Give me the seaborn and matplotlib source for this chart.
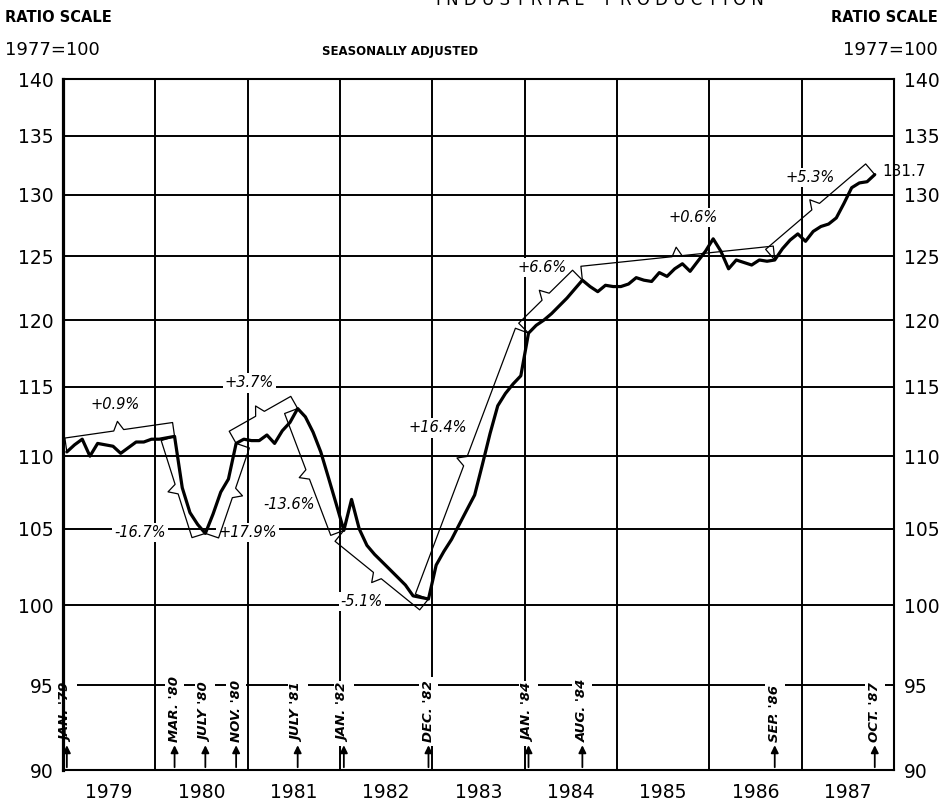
import numpy as np
import pandas as pd
import matplotlib
matplotlib.use("Agg")
import matplotlib.pyplot as plt
from matplotlib.ticker import FixedLocator, NullLocator, FuncFormatter
import seaborn as sns

# monthly industrial production index, 1977=100, seasonally adjusted
ip_1979 = [110.3, 110.8, 111.2, 110.0, 110.9, 110.8, 110.7, 110.2, 110.6, 111.0, 111.0, 111.2]
ip_1980 = [111.2, 111.3, 111.4, 107.8, 106.1, 105.3, 104.7, 106.0, 107.5, 108.4, 110.9, 111.2]
ip_1981 = [111.1, 111.1, 111.5, 110.9, 111.8, 112.4, 113.4, 112.8, 111.7, 110.3, 108.5, 106.7]
ip_1982 = [104.9, 107.0, 105.0, 103.9, 103.3, 102.8, 102.3, 101.8, 101.3, 100.6, 100.5, 100.4]
ip_1983 = [102.6, 103.5, 104.3, 105.3, 106.3, 107.3, 109.4, 111.6, 113.6, 114.5, 115.2, 115.8]
ip_1984 = [119.0, 119.6, 120.0, 120.5, 121.1, 121.7, 122.4, 123.1, 122.6, 122.2, 122.7, 122.6]
ip_1985 = [122.6, 122.8, 123.3, 123.1, 123.0, 123.7, 123.4, 124.0, 124.4, 123.8, 124.6, 125.4]
ip_1986 = [126.4, 125.4, 124.0, 124.7, 124.5, 124.3, 124.7, 124.6, 124.7, 125.6, 126.3, 126.8]
ip_1987 = [126.2, 127.0, 127.4, 127.6, 128.1, 129.3, 130.6, 131.0, 131.1, 131.7]

years = [1979, 1980, 1981, 1982, 1983, 1984, 1985, 1986, 1987]
yearly = [ip_1979, ip_1980, ip_1981, ip_1982, ip_1983, ip_1984, ip_1985, ip_1986, ip_1987]

# turning points (year, month) and their labels
turn_dates = [(1979, 1), (1980, 3), (1980, 7), (1980, 11), (1981, 7), (1982, 1),
              (1982, 12), (1984, 1), (1984, 8), (1986, 9), (1987, 10)]
turn_labels = ["JAN. '79", "MAR. '80", "JULY '80", "NOV. '80", "JULY '81", "JAN. '82",
               "DEC. '82", "JAN. '84", "AUG. '84", "SEP. '86", "OCT. '87"]
# annualized change between consecutive turning points
change_labels = ["+0.9%", "-16.7%", "+17.9%", "+3.7%", "-13.6%", "-5.1%",
                 "+16.4%", "+6.6%", "+0.6%", "+5.3%"]
brace_side = ["up", "down", "down", "up", "down", "down", "up", "up", "up", "up"]
# where each change label sits relative to its brace tip (pixels)
label_shift = [(-2, 17), (-28, -41), (5, -37), (-6, 23), (-10, -27), (-10, -19),
               (-19, 30), (3, 23), (17, 30), (0, 22)]

yticks = [90, 95, 100, 105, 110, 115, 120, 125, 130, 135, 140]

rows = []
for yr, vals in zip(years, yearly):
    for m, v in enumerate(vals):
        rows.append({"year": yr, "month": m + 1, "t": yr + (m + 0.5) / 12, "ip": v})
df = pd.DataFrame(rows)

sns.set_theme(style="white")
plt.rcParams["font.family"] = ["DejaVu Sans"]
plt.rcParams["text.color"] = "black"
plt.rcParams["xtick.color"] = "black"
plt.rcParams["ytick.color"] = "black"

W, H = 943, 801
fig = plt.figure(figsize=(W / 100, H / 100), dpi=100)
ax = fig.add_axes([63 / W, 31 / H, (894 - 63) / W, (770 - 79) / H])

ax.set_yscale("log")
ax.set_xlim(1979, 1988)
ax.set_ylim(90, 140)

ax.yaxis.set_major_locator(FixedLocator(yticks))
ax.yaxis.set_minor_locator(NullLocator())
ax.yaxis.set_major_formatter(FuncFormatter(lambda v, p: f"{v:.0f}"))
ax.tick_params(axis="y", which="both", length=0, labelsize=13.5, pad=7,
               left=False, right=False, labelleft=True, labelright=True)

ax.set_xticks(years[1:])
ax.set_xticklabels([])
ax.set_xticks([y + 0.5 for y in years], minor=True)
ax.set_xticklabels([str(y) for y in years], minor=True)
ax.tick_params(axis="x", which="both", length=0, labelsize=13.5, pad=9)

ax.set_axisbelow(True)
ax.grid(True, which="major", color="black", linewidth=1.4)
ax.grid(False, which="minor")
for name, sp in ax.spines.items():
    sp.set_visible(True)
    sp.set_color("black")
    sp.set_linewidth(2.3 if name == "left" else 1.5)

sns.lineplot(data=df, x="t", y="ip", color="black", linewidth=2.3, ax=ax, zorder=4)
ax.set_xlabel("")
ax.set_ylabel("")


def point_of(ym):
    r = df[(df["year"] == ym[0]) & (df["month"] == ym[1])].iloc[0]
    return r["t"], r["ip"]


turn_pts = [point_of(d) for d in turn_dates]


def draw_brace(p0, p1, side, gap=14, tip=9, half=5):
    to_disp = ax.transData
    a = to_disp.transform(p0)
    b = to_disp.transform(p1)
    d = b - a
    u = d / np.hypot(*d)
    n = np.array([-u[1], u[0]])
    if (side == "up") != (n[1] > 0):
        n = -n
    m = (a + b) / 2
    pts = np.array([a, a + gap * n, m + gap * n - half * u, m + (gap + tip) * n,
                    m + gap * n + half * u, b + gap * n, b])
    dat = to_disp.inverted().transform(pts)
    ax.plot(dat[:, 0], dat[:, 1], color="black", linewidth=0.9, zorder=3)
    return to_disp.inverted().transform(m + (gap + tip) * n)


for i, lab in enumerate(change_labels):
    tip_pt = draw_brace(turn_pts[i], turn_pts[i + 1], brace_side[i])
    ax.annotate(lab, xy=tip_pt, xytext=label_shift[i], textcoords="offset pixels",
                ha="center", va="center", fontsize=10.5, style="italic",
                bbox=dict(fc="white", ec="none", pad=1.5), zorder=2.5)

last_t, last_v = turn_pts[-1]
ax.annotate(f"{last_v:.1f}", xy=(last_t, last_v), xytext=(8, 3), textcoords="offset pixels",
            ha="left", va="center", fontsize=11, annotation_clip=False)

for (t, v), lab in zip(turn_pts, turn_labels):
    ax.annotate("", xy=(t, 91.6), xytext=(t, 90),
                arrowprops=dict(arrowstyle="-|>", color="black", lw=1.3, mutation_scale=11),
                zorder=3)
    ax.text(t, 91.6, lab, rotation=90, ha="center", va="bottom", fontsize=9.5,
            fontweight="bold", style="italic",
            bbox=dict(fc="white", ec="none", pad=2.5), zorder=2)

# title is cropped at the top edge in the source scan
fig.text(600 / W, 1.0, "I N D U S T R I A L    P R O D U C T I O N", ha="center",
         va="center", fontsize=12)
fig.text(5 / W, 1 - 18 / H, "RATIO SCALE", ha="left", va="center", fontsize=10.5,
         fontweight="bold")
fig.text(938 / W, 1 - 18 / H, "RATIO SCALE", ha="right", va="center", fontsize=10.5,
         fontweight="bold")
fig.text(5 / W, 1 - 50 / H, "1977=100", ha="left", va="center", fontsize=13)
fig.text(938 / W, 1 - 50 / H, "1977=100", ha="right", va="center", fontsize=13)
fig.text(400 / W, 1 - 52 / H, "SEASONALLY ADJUSTED", ha="center", va="center",
         fontsize=8.5, fontweight="bold")

fig.savefig("out.png", dpi=100, facecolor="white")
